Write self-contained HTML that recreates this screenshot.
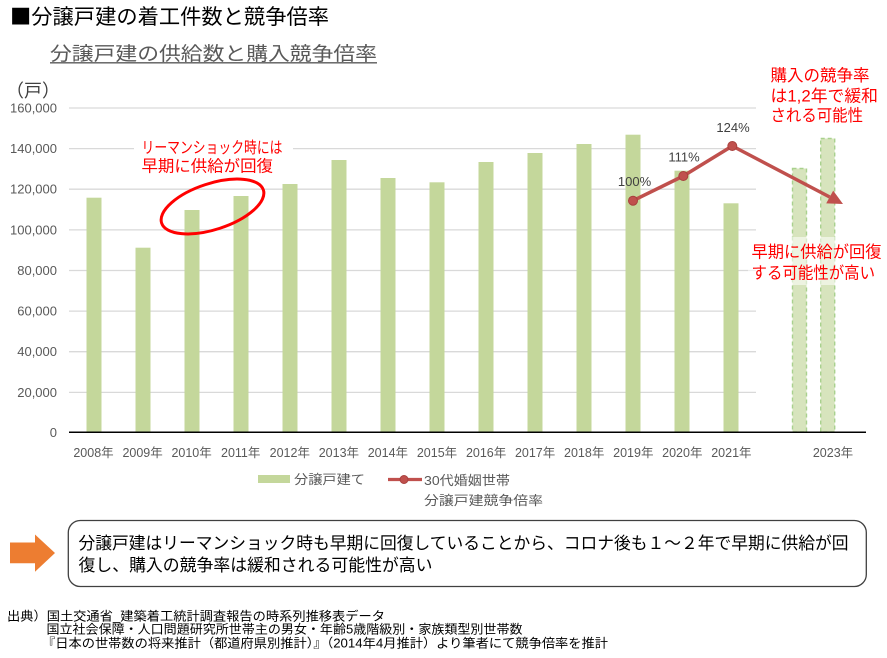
<!DOCTYPE html>
<html><head><meta charset="utf-8"><style>
html,body{margin:0;padding:0;background:#fff;}
svg{display:block;}
text{font-family:"Liberation Sans","Noto Sans CJK JP",sans-serif;}
</style></head><body>
<svg width="887" height="658" viewBox="0 0 887 658" xmlns="http://www.w3.org/2000/svg">
<rect width="887" height="658" fill="#fff"/>
<!-- Titles -->
<text x="10" y="24" font-size="21" fill="#000" textLength="319" lengthAdjust="spacingAndGlyphs"><tspan style="font-family:'Noto Sans CJK JP',sans-serif">■</tspan>分譲戸建の着工件数と競争倍率</text>
<text x="50" y="60" font-size="19" fill="#595959" textLength="327" lengthAdjust="spacingAndGlyphs">分譲戸建の供給数と購入競争倍率</text>
<line x1="50" y1="62.8" x2="377" y2="62.8" stroke="#595959" stroke-width="1.3"/>
<text x="6" y="97" font-size="18" fill="#404040">（戸）</text>

<!-- gridlines -->
<g stroke="#d9d9d9" stroke-width="1.3">
<line x1="69" y1="108" x2="756" y2="108"/>
<line x1="69" y1="148.6" x2="756" y2="148.6"/>
<line x1="69" y1="189.2" x2="756" y2="189.2"/>
<line x1="69" y1="229.9" x2="756" y2="229.9"/>
<line x1="69" y1="270.5" x2="756" y2="270.5"/>
<line x1="69" y1="311.1" x2="756" y2="311.1"/>
<line x1="69" y1="351.7" x2="756" y2="351.7"/>
<line x1="69" y1="392.4" x2="756" y2="392.4"/>
</g>
<!-- y labels -->
<g font-size="13" fill="#595959" text-anchor="end">
<text x="57" y="112.5">160,000</text>
<text x="57" y="153.1">140,000</text>
<text x="57" y="193.7">120,000</text>
<text x="57" y="234.4">100,000</text>
<text x="57" y="275">80,000</text>
<text x="57" y="315.6">60,000</text>
<text x="57" y="356.2">40,000</text>
<text x="57" y="396.9">20,000</text>
<text x="57" y="437">0</text>
</g>

<!-- left annotation bg -->
<rect x="134" y="134" width="159" height="44" fill="#fff"/>

<!-- bars -->
<g fill="#c4d79b">
<rect x="86.5" y="197.7" width="15" height="234.3"/>
<rect x="135.5" y="247.7" width="15" height="184.3"/>
<rect x="184.5" y="210" width="15" height="222"/>
<rect x="233.5" y="196" width="15" height="236"/>
<rect x="282.5" y="184" width="15" height="248"/>
<rect x="331.5" y="160" width="15" height="272"/>
<rect x="380.5" y="178" width="15" height="254"/>
<rect x="429.5" y="182.3" width="15" height="249.7"/>
<rect x="478.5" y="162" width="15" height="270"/>
<rect x="527.5" y="153" width="15" height="279"/>
<rect x="576.5" y="144" width="15" height="288"/>
<rect x="625.5" y="134.7" width="15" height="297.3"/>
<rect x="674.5" y="170.7" width="15" height="261.3"/>
<rect x="723.5" y="203.3" width="15" height="228.7"/>
</g>
<!-- future bars -->
<g fill="#d7e4bd" stroke="#a9d18e" stroke-width="1.4" stroke-dasharray="4,3">
<rect x="792.5" y="168.5" width="14" height="263.5"/>
<rect x="820.7" y="138.5" width="14" height="293.5"/>
</g>

<!-- axis -->
<line x1="69" y1="432.3" x2="866" y2="432.3" stroke="#000" stroke-width="1.5"/>

<!-- x labels -->
<g font-size="12.5" fill="#595959" text-anchor="middle">
<text x="93.5" y="457">2008年</text>
<text x="142.6" y="457">2009年</text>
<text x="191.6" y="457">2010年</text>
<text x="240.7" y="457">2011年</text>
<text x="289.8" y="457">2012年</text>
<text x="338.9" y="457">2013年</text>
<text x="387.9" y="457">2014年</text>
<text x="437" y="457">2015年</text>
<text x="486.1" y="457">2016年</text>
<text x="535.1" y="457">2017年</text>
<text x="584.2" y="457">2018年</text>
<text x="633.3" y="457">2019年</text>
<text x="682.3" y="457">2020年</text>
<text x="731.4" y="457">2021年</text>
<text x="833" y="457">2023年</text>
</g>

<!-- legend -->
<rect x="258" y="475" width="32" height="8" fill="#c4d79b"/>
<text x="294" y="484" font-size="13" fill="#595959" textLength="71" lengthAdjust="spacingAndGlyphs">分譲戸建て</text>
<line x1="388" y1="479.5" x2="422" y2="479.5" stroke="#c0504d" stroke-width="3.2"/>
<circle cx="404" cy="479.5" r="4" fill="#c0504d" stroke="#a8403d" stroke-width="1"/>
<text x="424" y="485" font-size="13" fill="#595959" textLength="86" lengthAdjust="spacingAndGlyphs">30代婚姻世帯</text>
<text x="424" y="505" font-size="13" fill="#595959" textLength="119" lengthAdjust="spacingAndGlyphs">分譲戸建競争倍率</text>

<!-- line series -->
<polyline points="633,200.7 683.3,176 732.3,146 829.7,197" fill="none" stroke="#c0504d" stroke-width="3.5" stroke-linejoin="round"/>
<polygon points="843,204 826.2,203.4 833.2,190.6" fill="#c0504d"/>
<g fill="#c0504d" stroke="#a8403d" stroke-width="1">
<circle cx="633" cy="200.7" r="4.5"/>
<circle cx="683.3" cy="176" r="4.5"/>
<circle cx="732.3" cy="146" r="4.5"/>
</g>
<g font-size="13" fill="#404040" text-anchor="middle">
<text x="634.5" y="186">100%</text>
<text x="684" y="161.5">111%</text>
<text x="733" y="132">124%</text>
</g>

<!-- annotations -->
<ellipse cx="212.5" cy="206.5" rx="53.5" ry="23" transform="rotate(-18 212.5 206.5)" fill="none" stroke="#ff0000" stroke-width="3"/>
<g font-size="16" fill="#ff0000">
<text x="141.5" y="153" textLength="141" lengthAdjust="spacingAndGlyphs">リーマンショック時には</text>
<text x="141.5" y="171.5" textLength="131.5" lengthAdjust="spacingAndGlyphs">早期に供給が回復</text>
</g>
<g font-size="16.5" fill="#ff0000">
<text x="770.5" y="81" textLength="99" lengthAdjust="spacingAndGlyphs">購入の競争率</text>
<text x="770.5" y="101.5" textLength="107.5" lengthAdjust="spacingAndGlyphs">は1,2年で緩和</text>
<text x="770.5" y="121" textLength="92.5" lengthAdjust="spacingAndGlyphs">される可能性</text>
</g>
<rect x="748" y="237" width="136" height="48" fill="#fff" fill-opacity="0.55"/>
<g font-size="16.5" fill="#ff0000">
<text x="751.5" y="257.5" textLength="130" lengthAdjust="spacingAndGlyphs">早期に供給が回復</text>
<text x="751.5" y="278.5" textLength="123.5" lengthAdjust="spacingAndGlyphs">する可能性が高い</text>
</g>

<!-- bottom arrow + box -->
<polygon points="10,542.5 35,542.5 35,534.5 55,553 35,571.7 35,563.3 10,563.3" fill="#ed7d31"/>
<rect x="68.3" y="520.5" width="798" height="66" rx="12" ry="12" fill="#fff" stroke="#404040" stroke-width="1.3"/>
<g font-size="17" fill="#000">
<text x="78.5" y="549" textLength="770" lengthAdjust="spacingAndGlyphs">分譲戸建はリーマンショック時も早期に回復していることから、コロナ後も１～２年で早期に供給が回</text>
<text x="78.5" y="571" textLength="354" lengthAdjust="spacingAndGlyphs">復し、購入の競争率は緩和される可能性が高い</text>
</g>

<!-- footer -->
<g font-size="12.6" fill="#000">
<text x="7" y="620.5" textLength="378" lengthAdjust="spacingAndGlyphs">出典）国土交通省_建築着工統計調査報告の時系列推移表データ</text>
<text x="46.5" y="633.5" textLength="476" lengthAdjust="spacingAndGlyphs">国立社会保障・人口問題研究所世帯主の男女・年齢5歳階級別・家族類型別世帯数</text>
<text x="42" y="647.5" textLength="566" lengthAdjust="spacingAndGlyphs">『日本の世帯数の将来推計（都道府県別推計）』（2014年4月推計）より筆者にて競争倍率を推計</text>
</g>
</svg>
</body></html>
